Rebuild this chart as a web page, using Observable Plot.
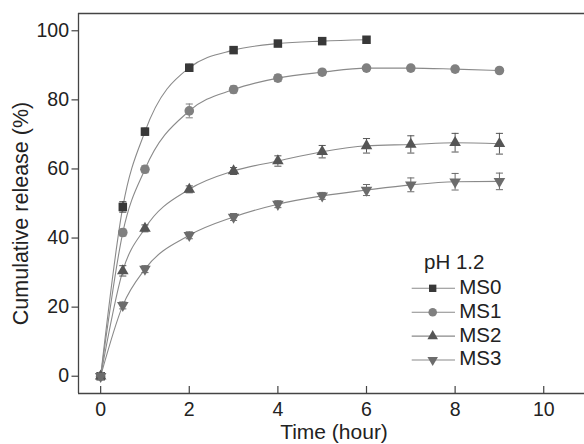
<!DOCTYPE html>
<html>
<head>
<meta charset="utf-8">
<script src="https://cdn.jsdelivr.net/npm/d3@7"></script>
<script src="https://cdn.jsdelivr.net/npm/@observablehq/plot@0.6"></script>
<style>
  html, body { margin: 0; padding: 0; background: white; }
  #wrap { position: relative; width: 584px; height: 444px; font-family: "Liberation Sans", Arial, sans-serif; }
  #legend { position: absolute; left: 400px; top: 245px; }
</style>
</head>
<body>
<div id="wrap"><div id="chart"></div><svg id="legend" width="140" height="130"></svg></div>
<script>
// ---- data ----
const seriesNames = ["MS0", "MS1", "MS2", "MS3"];
const times = [0, 0.5, 1, 2, 3, 4, 5, 6, 7, 8, 9];
const ms0 = [0, 49.0, 70.8, 89.3, 94.4, 96.3, 97.0, 97.4];
const ms1 = [0, 41.6, 59.9, 76.8, 83.0, 86.3, 88.0, 89.2, 89.2, 88.9, 88.5];
const ms2 = [0, 30.5, 42.8, 54.1, 59.4, 62.3, 65.0, 66.7, 67.1, 67.6, 67.3];
const ms3 = [0, 20.5, 31.0, 40.8, 46.1, 49.8, 52.2, 53.9, 55.4, 56.3, 56.4];
const err0 = [0, 1.5, 1.0, 1.0, 0.8, 0.8, 0.8, 0.8];
const err1 = [0, 1.0, 1.0, 2.0, 1.0, 1.0, 0.8, 0.8, 0.8, 0.8, 0.8];
const err2 = [0, 1.5, 1.0, 1.0, 1.0, 1.5, 1.8, 2.1, 2.5, 2.7, 3.0];
const err3 = [0, 1.0, 1.0, 1.0, 1.0, 1.0, 1.0, 1.6, 2.0, 2.4, 2.4];
const xTicks = [0, 2, 4, 6, 8, 10];
const yTicks = [0, 20, 40, 60, 80, 100];
const xDomain = [-0.5, 10.92];
const yDomain = [-5, 105];
const legendTitle = "pH 1.2";
const xLabel = "Time (hour)";
const yLabel = "Cumulative release (%)";

// ---- styles ----
const fills = {MS0: "#383838", MS1: "#808080", MS2: "#555555", MS3: "#6c6c6c"};
const symbols = {MS0: "square", MS1: "circle", MS2: "triangle", MS3: "triangle"};
const rotations = {MS0: 0, MS1: 0, MS2: 0, MS3: 180};
const radii = {MS0: 4.8, MS1: 4.8, MS2: 4.3, MS3: 4.3};

const values = [ms0, ms1, ms2, ms3];
const errs = [err0, err1, err2, err3];
const data = [];
seriesNames.forEach((s, i) => {
  values[i].forEach((v, j) => data.push({series: s, t: times[j], v, e: errs[i][j]}));
});
const errData = data.filter(d => d.e > 0);

const capSymbol = {
  draw(ctx, size) {
    const w = Math.sqrt(size) / 2;
    ctx.moveTo(-w, 0);
    ctx.lineTo(w, 0);
  }
};

const marks = [
  Plot.line(data, {x: "t", y: "v", z: "series", stroke: "#8a8a8a", strokeWidth: 1.1, curve: "monotone-x"}),
  Plot.ruleX(errData, {x: "t", y1: d => d.v - d.e, y2: d => d.v + d.e, stroke: d => fills[d.series], strokeWidth: 1}),
  Plot.dot(errData, {x: "t", y: d => d.v - d.e, symbol: capSymbol, r: 4, stroke: d => fills[d.series], strokeWidth: 1, fill: "none"}),
  Plot.dot(errData, {x: "t", y: d => d.v + d.e, symbol: capSymbol, r: 4, stroke: d => fills[d.series], strokeWidth: 1, fill: "none"})
];
seriesNames.forEach(s => {
  marks.push(Plot.dot(data.filter(d => d.series === s), {
    x: "t", y: "v", symbol: symbols[s], r: radii[s], rotate: rotations[s],
    fill: fills[s], stroke: "none"
  }));
});

const chart = Plot.plot({
  width: 584, height: 444,
  marginLeft: 78, marginRight: 0, marginTop: 13, marginBottom: 51,
  x: {domain: xDomain},
  y: {domain: yDomain},
  style: {fontFamily: "'Liberation Sans', Arial, sans-serif", fontSize: "19.5px", color: "#222", background: "white", overflow: "visible"},
  marks: [
    Plot.ruleY([yDomain[1]], {stroke: "#444", strokeWidth: 1.3}),
    Plot.ruleY([yDomain[0]], {stroke: "#444", strokeWidth: 1.3}),
    Plot.ruleX([xDomain[0]], {stroke: "#444", strokeWidth: 1.3}),
    Plot.axisY({ticks: yTicks, tickSize: 6.5, tickPadding: 3, label: null, stroke: "#444", strokeWidth: 1.2, fill: "#222"}),
    Plot.axisX({ticks: xTicks, tickSize: 7, dy: -7, tickFormat: () => "", label: null, stroke: "#444", strokeWidth: 1.2}),
    Plot.axisX({ticks: xTicks, tickSize: 0, tickPadding: 9, label: null, fill: "#222"}),
    Plot.text([xLabel], {frameAnchor: "bottom", textAnchor: "middle", lineAnchor: "middle", dy: 38.5, dx: 2.5, fontSize: 21, fill: "#222"}),
    Plot.text([yLabel], {frameAnchor: "left", textAnchor: "middle", lineAnchor: "middle", dx: -57, dy: 10, rotate: -90, fontSize: 21.5, fill: "#222"}),
    ...marks
  ]
});
document.getElementById("chart").appendChild(chart);

// ---- legend ----
const lg = d3.select("#legend");
lg.append("text").attr("x", 24).attr("y", 263.3 - 245).attr("dominant-baseline", "middle")
  .attr("font-size", 20.5).attr("fill", "#222").text(legendTitle);
const legendSizes = {MS0: 54, MS1: 58, MS2: 48, MS3: 48};
const d3sym = {square: d3.symbolSquare, circle: d3.symbolCircle, triangle: d3.symbolTriangle};
seriesNames.forEach((s, i) => {
  const y = 288.3 - 245 + i * 23.9;
  const g = lg.append("g").attr("transform", `translate(0,${y})`);
  g.append("line").attr("x1", 11.7).attr("x2", 55).attr("stroke", "#8a8a8a").attr("stroke-width", 1.1);
  g.append("path").attr("d", d3.symbol(d3sym[symbols[s]], legendSizes[s])())
    .attr("transform", `translate(32.7,0) rotate(${rotations[s]})`).attr("fill", fills[s]);
  g.append("text").attr("x", 59.3).attr("dominant-baseline", "middle").attr("font-size", 20.5)
    .attr("fill", "#222").text(s);
});
</script>
</body>
</html>
